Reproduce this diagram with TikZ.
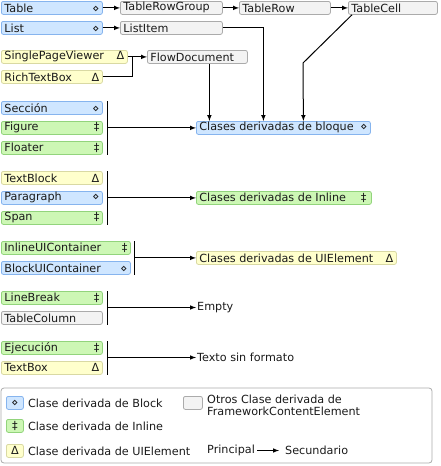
\documentclass[tikz,border=0pt]{standalone}
\usepackage{fontspec}
\setmainfont{DejaVu Sans}
\usetikzlibrary{positioning}

\definecolor{blkfill}{HTML}{CFE6FF}
\definecolor{blkline}{HTML}{86B4EE}
\definecolor{inlfill}{HTML}{CDF7B5}
\definecolor{inlline}{HTML}{92D47C}
\definecolor{uiefill}{HTML}{FFFFCC}
\definecolor{uieline}{HTML}{D9D9A3}
\definecolor{othfill}{HTML}{F3F3F3}
\definecolor{othline}{HTML}{ABABAB}
\definecolor{txt}{HTML}{1A1A1A}

\newcommand{\cname}[3]{\makebox[#1][l]{#2\hfill#3}}

\tikzset{
  cls/.style={rounded corners=2pt, anchor=north west, inner xsep=3pt, inner ysep=0pt,
    minimum height=13pt, text=txt, font=\fontsize{11.2}{12}\selectfont, line width=0.8pt},
  blk/.style={cls, draw=blkline, fill=blkfill},
  inl/.style={cls, draw=inlline, fill=inlfill},
  uie/.style={cls, draw=uieline, fill=uiefill},
  oth/.style={cls, draw=othline, fill=othfill},
  plain/.style={anchor=west, inner sep=1pt, text=txt, font=\fontsize{11.2}{12}\selectfont},
  conn/.style={line width=1pt, -latex},
  bar/.style={line width=1pt}
}

\begin{document}
\begin{tikzpicture}[x=1pt, y=-1pt]
    \useasboundingbox (0,0) rectangle (440,466);
    % top chains
    \node [blk] (table) at (1,1) {\cname{95pt}{Table}{⋄}};
    \node [oth] (trgroup) at (120,1) {\cname{96pt}{TableRowGroup}{}};
    \node [oth] (trow) at (239,1) {\cname{85pt}{TableRow}{}};
    \node [oth] (tcell) at (348,1) {\cname{83pt}{TableCell}{}};
    \node [blk] (list) at (1,21) {\cname{95pt}{List}{⋄}};
    \node [oth] (litem) at (120,21) {\cname{96pt}{ListItem}{}};
    \node [uie] (spv) at (1,50) {\cname{120pt}{SinglePageViewer}{Δ}};
    \node [uie] (rtb) at (1,70) {\cname{95pt}{RichTextBox}{Δ}};
    \node [oth] (flowdoc) at (147,50) {\cname{94pt}{FlowDocument}{}};
    % block group
    \node [blk] (seccion) at (1,101) {\cname{95pt}{Sección}{⋄}};
    \node [inl] (figure) at (1,121) {\cname{95pt}{Figure}{‡}};
    \node [inl] (floater) at (1,141) {\cname{95pt}{Floater}{‡}};
    \node [blk] (bloque) at (196,121) {\cname{168pt}{Clases derivadas de bloque}{⋄}};
    % inline group
    \node [uie] (textblock) at (1,171) {\cname{95pt}{TextBlock}{Δ}};
    \node [blk] (paragraph) at (1,191) {\cname{95pt}{Paragraph}{⋄}};
    \node [inl] (span) at (1,211) {\cname{95pt}{Span}{‡}};
    \node [inl] (inline) at (196,191) {\cname{169pt}{Clases derivadas de Inline}{‡\hspace{2pt}}};
    % uielement group
    \node [inl] (iuic) at (1,241) {\cname{123pt}{InlineUIContainer}{‡}};
    \node [blk] (buic) at (1,261) {\cname{123pt}{BlockUIContainer}{⋄}};
    \node [uie] (uielem) at (196,251) {\cname{194pt}{Clases derivadas de UIElement}{Δ}};
    % empty group
    \node [inl] (linebreak) at (1,291) {\cname{95pt}{LineBreak}{‡}};
    \node [oth] (tcol) at (1,311) {\cname{95pt}{TableColumn}{}};
    \node [plain] (empty) at (196,307.5) {Empty};
    % plain text group
    \node [inl] (ejec) at (1,341) {\cname{95pt}{Ejecución}{‡}};
    \node [uie] (textbox) at (1,361) {\cname{95pt}{TextBox}{Δ}};
    \node [plain] (texto) at (196,357.5) {Texto sin formato};

    % connectors
    \draw [conn] (table) -- (trgroup);
    \draw [conn] (trgroup) -- (trow);
    \draw [conn] (trow) -- (tcell);
    \draw [conn] (list) -- (litem);
    \draw [conn] (spv) -- (flowdoc);
    \draw [bar] (rtb.east) -| ([xshift=5pt]spv.east);
    \draw [conn] (litem.east) -| ([xshift=-20pt]bloque.north);
    \draw [conn] ([xshift=12pt]flowdoc.south) -- ([xshift=12pt]flowdoc.south |- bloque.north);
    \draw [conn] ([xshift=4pt]tcell.south west) -- (303,63) -- ([xshift=20pt]bloque.north);

    \draw [bar] ([xshift=5pt]seccion.north east) coordinate (b1) -- ([xshift=5pt]floater.south east);
    \draw [conn] (b1 |- bloque.west) -- (bloque.west);
    \draw [bar] ([xshift=5pt]textblock.north east) coordinate (b2) -- ([xshift=5pt]span.south east);
    \draw [conn] (b2 |- paragraph.east) -- (paragraph.east -| inline.west);
    \draw [bar] ([xshift=4pt]iuic.north east) coordinate (b3) -- ([xshift=4pt]buic.south east);
    \draw [conn] (b3 |- uielem.west) -- (uielem.west);
    \draw [bar] ([xshift=5pt]linebreak.north east) coordinate (b4) -- ([xshift=5pt]tcol.south east);
    \draw [conn] (b4 |- empty.west) -- (empty.west);
    \draw [bar] ([xshift=5pt]ejec.north east) coordinate (b5) -- ([xshift=5pt]textbox.south east);
    \draw [conn] (b5 |- texto.west) -- (texto.west);

    % legend
    \draw [othline, line width=0.8pt, rounded corners=3pt] (1,388) rectangle (432,463);
    \node [blk, inner xsep=0pt, minimum width=17pt] (kblk) at (6,396) {⋄};
    \node [plain, right=3pt of kblk] (lblk) {Clase derivada de Block};
    \node [inl, inner xsep=0pt, minimum width=17pt] (kinl) at (6,419) {‡};
    \node [plain, right=3pt of kinl] (linl) {Clase derivada de Inline};
    \node [uie, inner xsep=0pt, minimum width=17pt] (kuie) at (6,444) {Δ};
    \node [plain, right=3pt of kuie] (luie) {Clase derivada de UIElement};
    \node [oth, inner xsep=0pt, minimum width=19pt] (koth) at (183,396) {};
    \node [plain, anchor=north west, align=left] (loth) at (206,394) {Otros Clase derivada de\\FrameworkContentElement};
    \node [plain] (principal) at (206,450.5) {Principal};
    \node [plain] (secundario) at (284,450.5) {Secundario};
    \draw [conn] ([xshift=1pt]principal.east) -- ([xshift=-5pt]secundario.west);
\end{tikzpicture}
\end{document}
